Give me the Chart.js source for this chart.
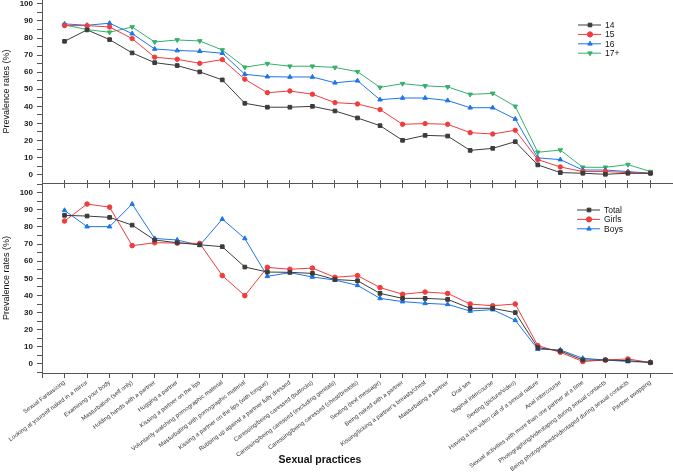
<!DOCTYPE html>
<html>
<head>
<meta charset="utf-8">
<script src="https://cdn.jsdelivr.net/npm/chart.js@4/dist/chart.umd.min.js"></script>
<style>
  body { margin: 0; background: #fff; }
  #wrap { position: relative; width: 673px; height: 476px; }
  canvas { position: absolute; left: 0; }
</style>
</head>
<body>
<div id="wrap">
  <canvas id="top" width="673" height="188" style="top:0"></canvas>
  <canvas id="bottom" width="673" height="296" style="top:180px"></canvas>
</div>
<script>
// categories on the x axis
const practices = [
  'Sexual Fantasizing',
  'Looking at yourself naked in a mirror',
  'Examining your body',
  'Masturbation (self only)',
  'Holding hands with a partner',
  'Hugging a partner',
  'Kissing a partner on the lips',
  'Voluntarily watching pornographic material',
  'Masturbating with pornographic material',
  'Kissing a partner on the lips (with tongue)',
  'Rubbing up against a partner fully dressed',
  'Caressing/being caressed (buttocks)',
  'Caressing/being caressed (excluding genitals)',
  'Caressing/being caressed (chest/breasts)',
  'Sexting (text message)',
  'Being naked with a partner',
  "Kissing/licking a partner's breasts/chest",
  'Masturbating a partner',
  'Oral sex',
  'Vaginal intercourse',
  'Sexting (picture/video)',
  'Having a live video call of a sexual nature',
  'Anal intercourse',
  'Sexual activities with more than one partner at a time',
  'Photographing/videotaping during sexual contacts',
  'Being photographed/videotaped during sexual contacts',
  'Partner swapping'
];

// top panel - by age
const age14 = [78.1, 84.8, 79.1, 71.3, 65.6, 63.9, 60.2, 55.5, 41.8, 39.5, 39.5, 40.0, 37.3, 33.2, 28.7, 20.1, 23.0, 22.6, 14.2, 15.4, 19.3, 5.7, 1.2, 0.8, 0.2, 0.8, 0.8];
const age15 = [87.3, 87.3, 86.5, 79.7, 68.8, 67.6, 65.2, 67.4, 55.9, 48.0, 49.0, 47.1, 42.2, 41.4, 38.1, 29.5, 29.9, 29.5, 24.6, 23.8, 26.0, 8.8, 4.5, 1.8, 1.8, 1.2, 0.8];
const age16 = [88.3, 87.5, 88.7, 82.6, 73.6, 72.7, 72.3, 71.1, 58.8, 57.4, 57.2, 57.2, 53.8, 55.0, 43.9, 44.9, 44.9, 43.4, 39.2, 39.2, 32.6, 9.8, 8.8, 2.7, 2.7, 1.8, 0.8];
const age17 = [87.7, 85.0, 83.4, 86.5, 77.7, 78.9, 78.3, 73.0, 62.9, 65.0, 63.5, 63.5, 62.8, 60.3, 51.1, 53.3, 52.0, 51.4, 47.0, 47.6, 40.0, 13.1, 14.4, 4.3, 4.3, 5.9, 1.8];

// bottom panel - by gender
const total = [86.8, 86.4, 85.6, 81.1, 72.4, 70.8, 69.6, 68.5, 56.6, 53.7, 53.5, 52.9, 49.3, 48.6, 41.2, 38.3, 38.3, 37.7, 32.5, 32.5, 30.0, 9.5, 7.6, 2.3, 2.3, 1.9, 0.8];
const girls = [83.5, 93.4, 91.6, 69.1, 70.8, 70.6, 70.4, 51.6, 39.9, 56.4, 55.3, 56.0, 50.6, 51.6, 44.6, 40.7, 42.0, 41.2, 35.0, 34.0, 35.0, 10.7, 6.8, 1.4, 2.3, 2.9, 0.8];
const boys = [89.7, 80.2, 80.2, 93.4, 73.3, 72.4, 69.3, 84.6, 73.3, 51.2, 53.3, 50.8, 49.0, 45.9, 38.3, 36.4, 35.4, 34.8, 30.9, 31.7, 25.5, 8.6, 8.2, 3.3, 2.3, 1.4, 1.0];

const yTicks = [0, 10, 20, 30, 40, 50, 60, 70, 80, 90, 100];

const FONT = 'Liberation Sans, Arial, sans-serif';
const BLACK = '#3c3c3c', RED = '#f03c3c', BLUE = '#1f74e8', GREEN = '#35b06a';

const pts = (arr) => arr.map((v, i) => ({x: i + 1, y: v}));

const series = (label, arr, color, style, rot, r) => ({
  label: label,
  data: pts(arr),
  borderColor: color,
  backgroundColor: color,
  borderWidth: 1,
  pointStyle: style,
  rotation: rot || 0,
  pointRadius: r || 2.6,
  pointBorderWidth: 1,
  tension: 0
});

// legend drawn as line + marker like the original
const lineLegend = {
  id: 'lineLegend',
  afterDraw(chart, args, opts) {
    const ctx = chart.ctx;
    ctx.save();
    chart.data.datasets.forEach((ds, i) => {
      const y = opts.y + i * opts.rowH;
      ctx.strokeStyle = ds.borderColor;
      ctx.lineWidth = 1;
      ctx.beginPath();
      ctx.moveTo(opts.x, y);
      ctx.lineTo(opts.x + 23, y);
      ctx.stroke();
      ctx.fillStyle = ds.backgroundColor;
      Chart.helpers.drawPoint(ctx, {pointStyle: ds.pointStyle, rotation: ds.rotation, radius: 2.6, borderWidth: 1}, opts.x + 12, y);
      ctx.fillStyle = '#111';
      ctx.font = '8.5px ' + FONT;
      ctx.textBaseline = 'middle';
      ctx.textAlign = 'left';
      ctx.fillText(ds.label, opts.x + 27, y + 0.5);
    });
    if (opts.xTitle) {
      ctx.fillStyle = '#111';
      ctx.font = 'bold 10.5px ' + FONT;
      ctx.textAlign = 'center';
      ctx.textBaseline = 'middle';
      ctx.fillText(opts.xTitle, 320, 280);
    }
    ctx.restore();
  }
};

const yAxis = (min, max) => ({
  type: 'linear',
  min: min,
  max: max,
  border: {display: true, color: '#555', width: 1},
  grid: {drawOnChartArea: false, tickLength: 5, color: '#555'},
  ticks: {
    stepSize: 5,
    includeBounds: false,
    autoSkip: false,
    padding: 4,
    color: '#222',
    font: {family: FONT, size: 8, weight: 'bold'},
    callback: (v) => yTicks.includes(Math.round(v * 100) / 100) ? String(Math.round(v)) : ''
  },
  title: {display: true, text: 'Prevalence rates (%)', color: '#111', font: {family: FONT, size: 9}, padding: {top: 1, bottom: 0}},
  afterFit: (s) => { s.width = 42; s.paddingTop = 0; s.paddingBottom = 0; }
});

const xAxis = (pos, h, labels) => ({
  type: 'linear',
  position: pos,
  min: 0,
  max: 28,
  border: {display: true, color: '#555', width: 1},
  grid: {drawOnChartArea: false, tickLength: h === 3 ? 3 : 5, color: '#555'},
  ticks: {
    display: labels,
    stepSize: 1,
    autoSkip: false,
    minRotation: 37,
    maxRotation: 37,
    padding: 1,
    color: '#333',
    font: {family: FONT, size: 6},
    callback: (v) => (v >= 1 && v <= practices.length) ? practices[v - 1] : ''
  },
  afterFit: (s) => { s.height = h; s.paddingLeft = 0; s.paddingRight = 0; }
});

const baseOpts = {
  responsive: false,
  animation: false,
  layout: {padding: 0, autoPadding: false},
  plugins: {legend: {display: false}, tooltip: {enabled: false}}
};

new Chart(document.getElementById('top'), {
  type: 'line',
  data: {
    datasets: [
      series('14', age14, BLACK, 'rect'),
      series('15', age15, RED, 'circle', 0, 2.2),
      series('16', age16, BLUE, 'triangle'),
      series('17+', age17, GREEN, 'triangle', 180)
    ]
  },
  options: Object.assign({}, baseOpts, {
    scales: {x: xAxis('bottom', 5, false), y: yAxis(-4.9, 102.3)},
    plugins: Object.assign({}, baseOpts.plugins, {lineLegend: {x: 578, y: 25, rowH: 9.4}})
  }),
  plugins: [lineLegend]
});

new Chart(document.getElementById('bottom'), {
  type: 'line',
  data: {
    datasets: [
      series('Total', total, BLACK, 'rect'),
      series('Girls', girls, RED, 'circle', 0, 2.3),
      series('Boys', boys, BLUE, 'triangle')
    ]
  },
  options: Object.assign({}, baseOpts, {
    scales: {
      x: xAxis('bottom', 103, true),
      x2: xAxis('top', 3, false),
      y: yAxis(-5.3, 105.7)
    },
    plugins: Object.assign({}, baseOpts.plugins, {lineLegend: {x: 577, y: 30, rowH: 9.4, xTitle: 'Sexual practices'}})
  }),
  plugins: [lineLegend]
});
</script>
</body>
</html>
